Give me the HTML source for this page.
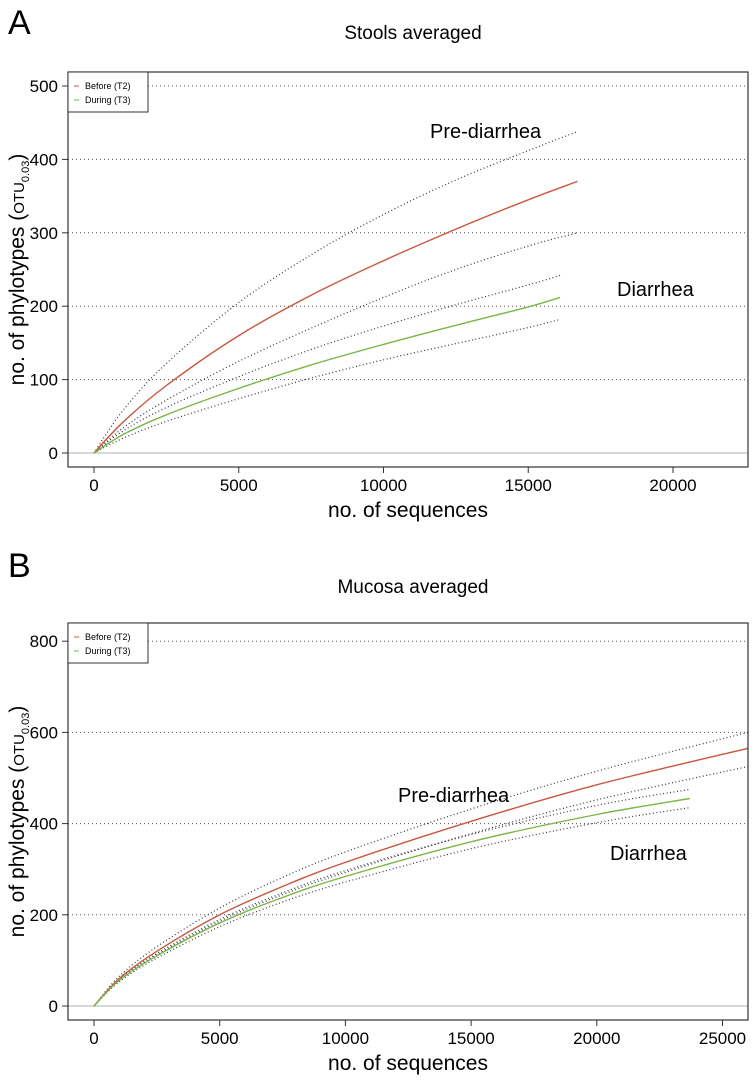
<!DOCTYPE html>
<html><head><meta charset="utf-8">
<style>
body{margin:0;background:#fff;}
svg text{font-family:"Liberation Sans",sans-serif;}
</style></head>
<body>
<svg id="fig" width="752" height="1079" xmlns="http://www.w3.org/2000/svg"></svg>
<script>
// ---- Panel A data (Stools averaged) ----
const aX = [0, 1000, 2500, 5000, 7500, 10000, 12500, 15000, 16700];
const aRed = [0, 42, 92, 160, 215, 262, 305, 345, 370];
const aRedHi = [0, 58, 122, 205, 270, 325, 372, 412, 438];
const aRedLo = [0, 34, 72, 125, 170, 212, 250, 282, 300];
const aGX = [0, 1000, 2500, 5000, 7500, 10000, 12500, 15000, 16100];
const aGreen = [0, 25, 52, 88, 120, 148, 174, 199, 212];
const aGreenHi = [0, 30, 62, 104, 141, 173, 202, 229, 242];
const aGreenLo = [0, 20, 43, 74, 102, 127, 149, 171, 182];
const aYTicks = [0, 100, 200, 300, 400, 500];
const aXTicks = [0, 5000, 10000, 15000, 20000];
// ---- Panel B data (Mucosa averaged) ----
const bX = [0, 1000, 2500, 5000, 7500, 10000, 15000, 20000, 26000];
const bRed = [0, 60, 120, 200, 262, 315, 405, 485, 565];
const bRedHi = [0, 65, 130, 215, 282, 338, 432, 515, 600];
const bRedLo = [0, 56, 112, 186, 244, 293, 378, 452, 525];
const bGX = [0, 1000, 2500, 5000, 7500, 10000, 15000, 20000, 23700];
const bGreen = [0, 56, 110, 182, 238, 284, 360, 420, 455];
const bGreenHi = [0, 58, 115, 190, 248, 297, 376, 440, 475];
const bGreenLo = [0, 53, 105, 174, 228, 272, 345, 402, 435];
const bYTicks = [0, 200, 400, 600, 800];
const bXTicks = [0, 5000, 10000, 15000, 20000, 25000];

const NS = "http://www.w3.org/2000/svg";
const svg = document.getElementById("fig");
function mk(tag, attrs, parent, text){
  const e = document.createElementNS(NS, tag);
  for (const k in attrs) e.setAttribute(k, attrs[k]);
  if (text !== undefined) e.textContent = text;
  (parent || svg).appendChild(e);
  return e;
}
function smoothPath(pts){
  let d = "M" + pts[0][0].toFixed(1) + "," + pts[0][1].toFixed(1);
  for (let i = 0; i < pts.length - 1; i++){
    const p0 = pts[Math.max(0, i - 1)], p1 = pts[i], p2 = pts[i + 1], p3 = pts[Math.min(pts.length - 1, i + 2)];
    const c1x = p1[0] + (p2[0] - p0[0]) / 6, c1y = p1[1] + (p2[1] - p0[1]) / 6;
    const c2x = p2[0] - (p3[0] - p1[0]) / 6, c2y = p2[1] - (p3[1] - p1[1]) / 6;
    d += " C" + c1x.toFixed(1) + "," + c1y.toFixed(1) + " " + c2x.toFixed(1) + "," + c2y.toFixed(1) + " " + p2[0].toFixed(1) + "," + p2[1].toFixed(1);
  }
  return d;
}

function panel(p){
  const g = mk("g", {});
  
  
  const sx = v => p.x0 + v * p.xs;
  const sy = v => p.y0 - v * p.ys;
  const L = mk("text", {x: 8, y: p.letterY, "font-size": 34}, g, p.letter);
  
  
  const T = mk("text", {x: 413, y: p.titleY, "font-size": 19, "text-anchor": "middle"}, g, p.title);
  
  
  p.yTicks.forEach(t => {
    if (t === 0) {
      const z = mk("line", {x1: 68, x2: 748, y1: sy(0), y2: sy(0), stroke: "#cccccc", "stroke-width": 1.5}, g);
      
      
    } else {
      const gl = mk("line", {x1: 68, x2: 748, y1: sy(t), y2: sy(t), stroke: "#555", "stroke-width": 1, "stroke-dasharray": "1 3"}, g);
      
      
    }
    const tk = mk("line", {x1: 62, x2: 68, y1: sy(t), y2: sy(t), stroke: "#333"}, g);
    
    
    const tl = mk("text", {x: 58, y: sy(t) + 6, "font-size": 17, "text-anchor": "end"}, g, String(t));
    
    
  });
  p.xTicks.forEach(t => {
    const tk = mk("line", {x1: sx(t), x2: sx(t), y1: p.boxB, y2: p.boxB + 6, stroke: "#333"}, g);
    
    
    const tl = mk("text", {x: sx(t), y: p.boxB + 24, "font-size": 17, "text-anchor": "middle"}, g, String(t));
    
    
  });
  function line(xs, ys, color, dotted, name){
    const pts = xs.map((x, i) => [sx(x), sy(ys[i])]);
    const attrs = {d: smoothPath(pts), fill: "none", stroke: color, "stroke-width": dotted ? 1.2 : 1.4};
    if (dotted) attrs["stroke-dasharray"] = "1 2.5";
    const e = mk("path", attrs, g);
    
    
  }
  line(p.rx, p.redHi, "#334", true, "before-upper-ci");
  line(p.rx, p.redLo, "#334", true, "before-lower-ci");
  line(p.gx, p.greenHi, "#334", true, "during-upper-ci");
  line(p.gx, p.greenLo, "#334", true, "during-lower-ci");
  line(p.rx, p.red, "#c9573e", false, "before-t2-line");
  line(p.gx, p.green, "#7ab648", false, "during-t3-line");
  const bx = mk("rect", {x: 68, y: p.boxT, width: 680, height: p.boxB - p.boxT, fill: "none", stroke: "#333", "stroke-width": 1.2}, g);
  
  
  const lg = mk("g", {}, g);
  
  
  mk("rect", {x: 68, y: p.boxT, width: 80, height: 40, fill: "#fff", stroke: "#333"}, lg);
  mk("line", {x1: 74, x2: 79, y1: p.boxT + 14, y2: p.boxT + 14, stroke: "#c9573e"}, lg);
  mk("line", {x1: 74, x2: 79, y1: p.boxT + 28, y2: p.boxT + 28, stroke: "#7ab648"}, lg);
  const e1 = mk("text", {x: 85, y: p.boxT + 17, "font-size": 9}, lg, "Before (T2)");
  
  
  const e2 = mk("text", {x: 85, y: p.boxT + 31, "font-size": 9}, lg, "During (T3)");
  
  
  const a1 = mk("text", {x: p.preX, y: p.preY, "font-size": 20}, g, "Pre-diarrhea");
  
  
  const a2 = mk("text", {x: p.diaX, y: p.diaY, "font-size": 20}, g, "Diarrhea");
  
  
  const xt = mk("text", {x: 408, y: p.boxB + 50, "font-size": 21, "text-anchor": "middle"}, g, "no. of sequences");
  
  
  const cy = (p.boxT + p.boxB) / 2;
  const yt = mk("text", {transform: "translate(24," + cy + ") rotate(-90)", "font-size": 21, "text-anchor": "middle"}, g);
  
  
  mk("tspan", {}, yt, "no. of phylotypes (");
  mk("tspan", {"font-size": 15}, yt, "OTU");
  mk("tspan", {"font-size": 11, dy: 5}, yt, "0.03");
  mk("tspan", {dy: -5}, yt, ")");
}

panel({name: "panel-a-stools", letter: "A", letterY: 34, title: "Stools averaged", titleY: 39,
  x0: 94, xs: 0.02895, y0: 453, ys: 0.734, boxT: 72, boxB: 467,
  yTicks: aYTicks, xTicks: aXTicks, rx: aX, red: aRed, redHi: aRedHi, redLo: aRedLo,
  gx: aGX, green: aGreen, greenHi: aGreenHi, greenLo: aGreenLo,
  preX: 430, preY: 138, diaX: 617, diaY: 296});
panel({name: "panel-b-mucosa", letter: "B", letterY: 577, title: "Mucosa averaged", titleY: 593,
  x0: 94, xs: 0.02514, y0: 1006, ys: 0.456, boxT: 623, boxB: 1020,
  yTicks: bYTicks, xTicks: bXTicks, rx: bX, red: bRed, redHi: bRedHi, redLo: bRedLo,
  gx: bGX, green: bGreen, greenHi: bGreenHi, greenLo: bGreenLo,
  preX: 398, preY: 802, diaX: 610, diaY: 860});
</script>
</body></html>
